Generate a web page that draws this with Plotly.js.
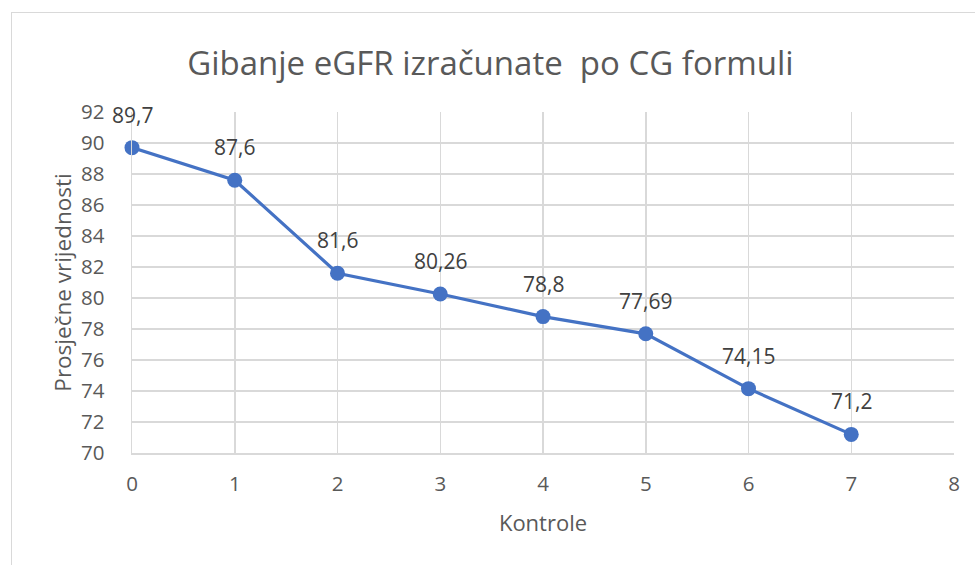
<!DOCTYPE html>
<html>
<head>
<meta charset="utf-8">
<script src="https://cdn.plot.ly/plotly-3.0.1.min.js"></script>
<style>
html,body{margin:0;padding:0;background:#fff;overflow:hidden;}
#frame{position:absolute;left:11px;top:12px;width:1100px;height:700px;border:1.5px solid #d9d9d9;box-sizing:border-box;}
#chart{position:absolute;left:0;top:0;width:975px;height:565px;}
</style>
</head>
<body>
<div id="frame"></div>
<div id="chart"></div>
<script>
const kontrole = [0, 1, 2, 3, 4, 5, 6, 7];
const vrijednosti = [89.7, 87.6, 81.6, 80.26, 78.8, 77.69, 74.15, 71.2];
const xTicks = [0, 1, 2, 3, 4, 5, 6, 7, 8];
const yTicks = [70, 72, 74, 76, 78, 80, 82, 84, 86, 88, 90, 92];
const labels = vrijednosti.map(v => String(v).replace('.', ','));

const font = "'Open Sans', 'Noto Sans', sans-serif";

const trace = {
  x: kontrole,
  y: vrijednosti,
  type: 'scatter',
  mode: 'lines+markers',
  line: {color: '#4472C4', width: 3.2},
  marker: {color: '#4472C4', size: 15},
  cliponaxis: false,
  hoverinfo: 'x+y'
};

const annotations = kontrole.map((x, i) => ({
  x: x, y: vrijednosti[i], xref: 'x', yref: 'y',
  text: labels[i], showarrow: false,
  yshift: 33, xanchor: 'center', yanchor: 'middle',
  font: {family: font, size: 21, color: '#404040'}
}));

const layout = {
  width: 975, height: 565,
  paper_bgcolor: 'rgba(0,0,0,0)',
  plot_bgcolor: 'rgba(0,0,0,0)',
  margin: {l: 132, r: 21, t: 112, b: 112},
  showlegend: false,
  font: {family: font, color: '#595959'},
  annotations: annotations,
  title: {
    text: 'Gibanje eGFR izračunate  po CG formuli',
    font: {family: font, size: 33, color: '#595959'},
    x: 0.503, xanchor: 'center', y: 0.888, yanchor: 'middle'
  },
  xaxis: {
    range: [0, 8],
    tickvals: xTicks,
    ticktext: xTicks.map(String),
    showgrid: true, gridcolor: '#d9d9d9', gridwidth: 1.5,
    showline: true, linecolor: '#d9d9d9', linewidth: 1.5,
    zeroline: false,
    ticks: '', ticklabelstandoff: 12,
    tickfont: {family: font, size: 20.5, color: '#595959'},
    title: {text: 'Kontrole', font: {family: font, size: 22, color: '#595959'}, standoff: 19}
  },
  yaxis: {
    range: [70, 92],
    tickvals: yTicks,
    ticktext: yTicks.map(String),
    showgrid: true, gridcolor: '#d9d9d9', gridwidth: 1.5,
    showline: true, linecolor: '#d9d9d9', linewidth: 1.5,
    zeroline: false,
    ticks: '', ticklabelstandoff: 22,
    tickfont: {family: font, size: 20.5, color: '#595959'},
    title: {text: 'Prosječne vrijednosti', font: {family: font, size: 22.5, color: '#595959'}, standoff: 3}
  }
};

Plotly.newPlot('chart', [trace], layout, {displayModeBar: false, staticPlot: true});
</script>
</body>
</html>
